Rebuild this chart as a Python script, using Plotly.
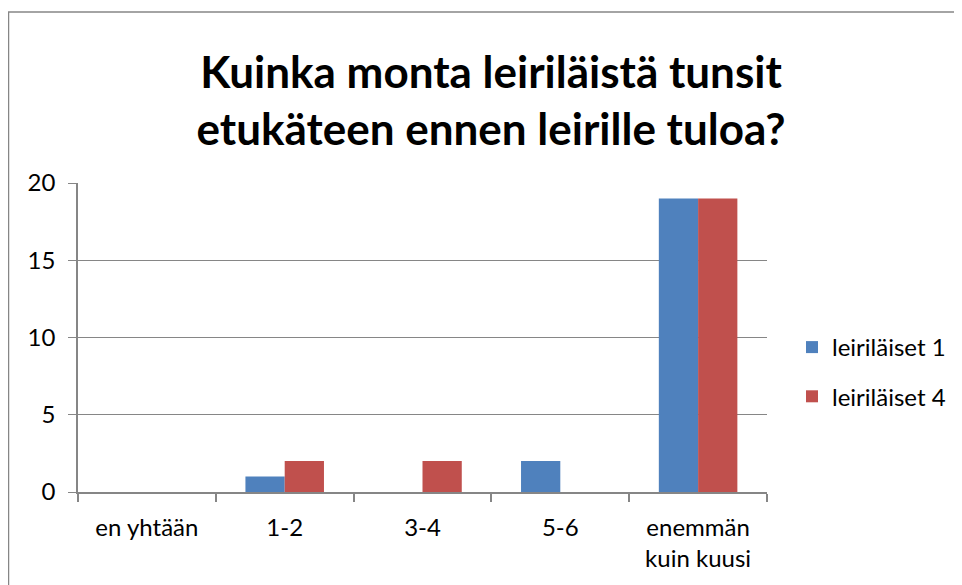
import plotly.graph_objects as go

categories = ["en yhtään", "1-2", "3-4", "5-6", "enemmän<br>kuin kuusi"]
series1_name = "leiriläiset 1"
series1_values = [0, 1, 0, 2, 19]
series2_name = "leiriläiset 4"
series2_values = [0, 2, 2, 0, 19]
title_text = "Kuinka monta leiriläistä tunsit<br>etukäteen ennen leirille tuloa?"

# page body has an 8px margin; positions below are in figure coords
W, H = 962, 585
L, R, T, B = 70, 203, 175, 101
pw = W - L - R
ph = H - T - B

font_family = "Lato, 'Open Sans', sans-serif"
grey = "#868686"

fig = go.Figure()
fig.add_trace(go.Bar(x=categories, y=series1_values, name=series1_name,
                     marker=dict(color="#4F81BD", line=dict(width=0)),
                     legendgroup="a"))
fig.add_trace(go.Bar(x=categories, y=series2_values, name=series2_name,
                     marker=dict(color="#C0504D", line=dict(width=0)),
                     legendgroup="b"))

fig.update_layout(
    width=W, height=H,
    margin=dict(l=L, r=R, t=T, b=B, pad=0),
    paper_bgcolor="white", plot_bgcolor="white",
    font=dict(family=font_family, size=24, color="black"),
    title=dict(text=title_text, xref="container", yref="container",
               x=483 / W, xanchor="center", y=1 - 80 / H, yanchor="middle",
               font=dict(family=font_family, size=44, color="black", weight="bold")),
    bargap=0.43, bargroupgap=0,
    barmode="group",
    legend=dict(x=(784 - L) / pw, xanchor="left", y=(484 - 364) / ph, yanchor="middle",
                font=dict(size=24), tracegroupgap=15, traceorder="grouped",
                bgcolor="rgba(0,0,0,0)"),
    showlegend=True,
)
fig.update_yaxes(range=[0, 20], dtick=5, showgrid=True, gridcolor=grey, gridwidth=1,
                 showline=True, linecolor=grey, linewidth=1.5, ticks="outside",
                 ticklen=8, tickcolor=grey, zeroline=False, ticklabelstandoff=8)
fig.update_xaxes(showline=True, linecolor=grey, linewidth=1.5, ticks="outside",
                 ticklen=8, tickcolor=grey, tickson="boundaries", tickwidth=1.5,
                 showgrid=False, ticklabelstandoff=13)

fig.add_shape(type="rect", xref="paper", yref="paper",
              x0=(0.5 - L) / pw, x1=(1000 - L) / pw,
              y0=(484 - 620) / ph, y1=(484 - 4) / ph,
              line=dict(color=grey, width=1.5), fillcolor="rgba(0,0,0,0)", layer="below")

fig.write_html("out.html")
